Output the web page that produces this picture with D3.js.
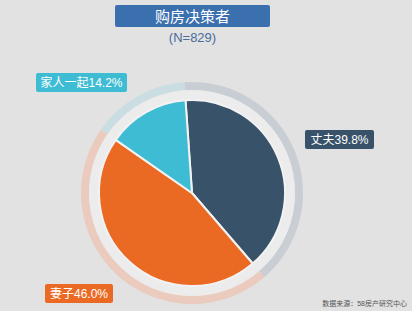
<!DOCTYPE html>
<html>
<head>
<meta charset="utf-8">
<script src="https://cdn.jsdelivr.net/npm/d3@7"></script>
<style>
html, body { margin:0; padding:0; background:#e2e2e2; }
text { font-family: "Liberation Sans", "Noto Sans CJK SC", sans-serif; }
</style>
</head>
<body>
<div id="chart"></div>
<script>
// data
var names = ['丈夫', '妻子', '家人一起'];
var values = [39.8, 46.0, 14.2];
var colors = ['#38526a', '#ea6a23', '#3ebcd3'];
var ringColors = ['#c8ced4', '#eacbbd', '#c9dde3'];
var title = '购房决策者';
var subtitle = '(N=829)';
var source = '数据来源：58房产研究中心';

var W = 412, H = 311;
var cx = 192, cy = 193, r = 93;
var startA = -4 * Math.PI / 180;

var svg = d3.select('#chart').append('svg').attr('width', W).attr('height', H);
svg.append('rect').attr('width', W).attr('height', H).attr('fill', '#e2e2e2');

// title
svg.append('rect').attr('x', 115).attr('y', 5).attr('width', 155).attr('height', 22).attr('rx', 2).attr('fill', '#3b70af');
svg.append('text').attr('x', 192.5).attr('y', 21.5).attr('text-anchor', 'middle').attr('fill', '#fff').attr('font-size', '15px').text(title);
svg.append('text').attr('x', 192.5).attr('y', 42).attr('text-anchor', 'middle').attr('fill', '#4a6b9c').attr('font-size', '13px').text(subtitle);

var pie = d3.pie().sort(null).startAngle(startA).endAngle(startA + 2 * Math.PI);
var arcs = pie(values);

var g = svg.append('g').attr('transform', 'translate(' + cx + ',' + cy + ')');

// outer ring
var ring = d3.arc().innerRadius(r + 10).outerRadius(r + 18);
g.selectAll('path.ring').data(arcs).enter().append('path').attr('class', 'ring')
  .attr('d', ring).attr('fill', function(d, i) { return ringColors[i]; });
// light halo
g.append('circle').attr('r', r + 10).attr('fill', '#ececec');

var arc = d3.arc().innerRadius(0).outerRadius(r);
g.selectAll('path.slice').data(arcs).enter().append('path').attr('class', 'slice')
  .attr('d', arc).attr('fill', function(d, i) { return colors[i]; })
  .attr('stroke', '#f2f2f2').attr('stroke-width', 2).attr('stroke-linejoin', 'round');

// labels
var labelPos = [[305, 130, 69], [45, 284, 68], [36, 73, 91]];
labelPos.forEach(function(p, i) {
  var lg = svg.append('g');
  lg.append('rect').attr('x', p[0]).attr('y', p[1]).attr('width', p[2]).attr('height', 19).attr('rx', 2).attr('fill', colors[i]);
  lg.append('text').attr('x', p[0] + p[2] / 2).attr('y', p[1] + 14).attr('text-anchor', 'middle')
    .attr('fill', '#fff').attr('font-size', '12px').text(names[i] + values[i].toFixed(1) + '%');
});

svg.append('text').attr('x', 407).attr('y', 306).attr('text-anchor', 'end').attr('fill', '#555').attr('font-size', '7px').text(source);
</script>
</body>
</html>
